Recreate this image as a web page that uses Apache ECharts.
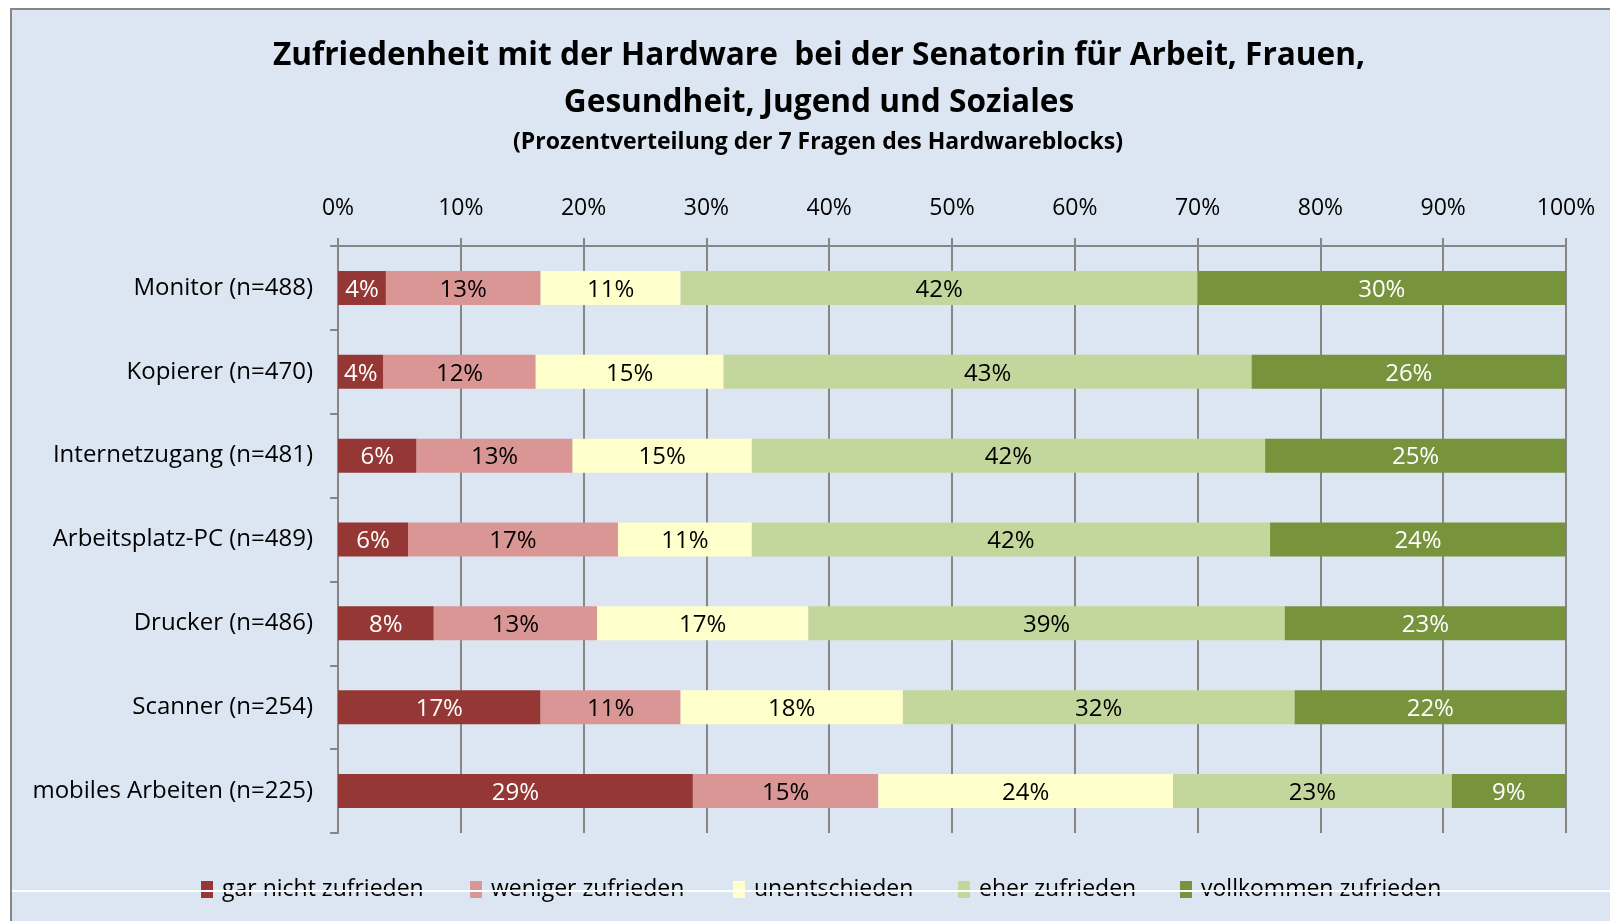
<!DOCTYPE html>
<html>
<head>
<meta charset="utf-8">
<script src="https://cdn.jsdelivr.net/npm/echarts@6/dist/echarts.min.js"></script>
<style>
  html, body { margin: 0; padding: 0; background: #ffffff; }
  #frame { position: absolute; left: 10px; top: 8px; width: 1620px; height: 930px;
           background: #dce6f2; border-left: 2px solid #868686; border-top: 2px solid #868686; }
  #chart { position: absolute; left: 0; top: 0; width: 1610px; height: 921px; }
</style>
</head>
<body>
<div id="frame"></div>
<div id="chart"></div>
<script>
  // Fragen (von oben nach unten)
  const categories = ['Monitor (n=488)', 'Kopierer (n=470)', 'Internetzugang (n=481)',
    'Arbeitsplatz-PC (n=489)', 'Drucker (n=486)', 'Scanner (n=254)', 'mobiles Arbeiten (n=225)'];

  // Antwortstufen
  const levels = ['gar nicht zufrieden', 'weniger zufrieden', 'unentschieden',
    'eher zufrieden', 'vollkommen zufrieden'];

  // Prozentwerte je Antwortstufe
  const garNicht   = [3.9, 3.7, 6.4, 5.7, 7.8, 16.5, 28.9];
  const weniger    = [12.6, 12.4, 12.7, 17.1, 13.3, 11.4, 15.1];
  const unentsch   = [11.4, 15.3, 14.6, 10.9, 17.2, 18.1, 24.0];
  const eher       = [42.1, 43.0, 41.8, 42.2, 38.8, 31.9, 22.7];
  const vollkommen = [30.0, 25.6, 24.5, 24.1, 22.9, 22.1, 9.3];

  const xTicks = [0, 10, 20, 30, 40, 50, 60, 70, 80, 90, 100];

  const values = [garNicht, weniger, unentsch, eher, vollkommen];
  const colors = ['#953735', '#da9694', '#ffffcc', '#c3d69b', '#77933c'];
  const labelColors = ['#ffffff', '#000000', '#000000', '#000000', '#ffffff'];
  const legendLeft = [201, 470, 733, 958, 1180];

  let chart = echarts.init(document.getElementById('chart'));

  let series = levels.map((name, i) => ({
    name: name,
    type: 'bar',
    stack: 'total',
    barWidth: 34,
    data: values[i],
    itemStyle: { color: colors[i] },
    label: {
      show: true,
      position: 'inside',
      color: labelColors[i],
      fontSize: 24,
      fontFamily: 'Open Sans',
      offset: [0, 2],
      formatter: p => Math.round(p.value) + '%'
    }
  }));

  let option = {
    animation: false,
    textStyle: { fontFamily: 'Open Sans' },
    title: [
      {
        text: 'Zufriedenheit mit der Hardware  bei der Senatorin für Arbeit, Frauen,\nGesundheit, Jugend und Soziales',
        left: 819,
        top: 32,
        textAlign: 'center',
        padding: 0,
        textStyle: { fontSize: 31.6, fontWeight: 'bold', color: '#000000', lineHeight: 47 }
      },
      {
        text: '(Prozentverteilung der 7 Fragen des Hardwareblocks)',
        left: 818,
        top: 128,
        textAlign: 'center',
        padding: 0,
        textStyle: { fontSize: 23, fontWeight: 'bold', color: '#000000', lineHeight: 28 }
      }
    ],
    legend: levels.map((name, i) => ({
      data: [name],
      left: legendLeft[i],
      top: 878,
      padding: 0,
      icon: 'rect',
      itemWidth: 12,
      itemHeight: 17,
      textStyle: { fontSize: 23, color: '#000000', padding: [0, 0, 0, 4] }
    })),
    grid: { left: 338, right: 44, top: 246, bottom: 88, containLabel: false },
    xAxis: {
      type: 'value',
      position: 'top',
      min: xTicks[0],
      max: xTicks[xTicks.length - 1],
      interval: xTicks[1] - xTicks[0],
      axisLine: { show: true, lineStyle: { color: '#868686', width: 2 } },
      axisTick: { show: true, length: 8, lineStyle: { color: '#868686', width: 2 } },
      splitLine: { show: true, lineStyle: { color: '#868686', width: 2 } },
      axisLabel: { formatter: '{value}%', fontSize: 23, color: '#000000', margin: 26 }
    },
    yAxis: {
      type: 'category',
      inverse: true,
      data: categories,
      axisLine: { show: true, lineStyle: { color: '#868686', width: 2 } },
      axisTick: { show: true, length: 8, lineStyle: { color: '#868686', width: 2 } },
      axisLabel: { fontSize: 24, color: '#000000', margin: 25, padding: [7, 0, 0, 0] }
    },
    graphic: [{
      type: 'line',
      z: 100,
      shape: { x1: 12, y1: 891, x2: 1610, y2: 891 },
      style: { stroke: '#ffffff', lineWidth: 2 }
    }],
    series: series
  };

  chart.setOption(option);
</script>
</body>
</html>
